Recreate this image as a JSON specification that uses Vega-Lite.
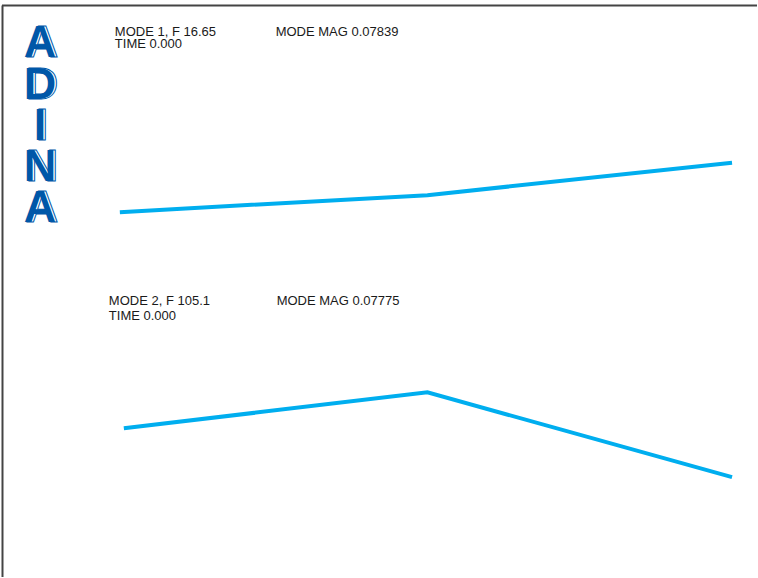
{
  "$schema": "https://vega.github.io/schema/vega-lite/v6.json",
  "width": 758,
  "height": 578,
  "autosize": {"type": "fit", "contains": "padding"},
  "padding": 0,
  "background": "white",
  "config": {"view": {"stroke": null}},
  "datasets": {
    "frame": [
      {"x": 2, "x2": 758, "y": 5.5, "y2": 5.5},
      {"x": 2.5, "x2": 2.5, "y": 5.5, "y2": 578}
    ],
    "modes": [
      {"mode": "MODE 1", "node": 1, "x": 120, "y": 212.5},
      {"mode": "MODE 1", "node": 2, "x": 428, "y": 195.5},
      {"mode": "MODE 1", "node": 3, "x": 733, "y": 163},
      {"mode": "MODE 2", "node": 1, "x": 124, "y": 429},
      {"mode": "MODE 2", "node": 2, "x": 428, "y": 393},
      {"mode": "MODE 2", "node": 3, "x": 733, "y": 478}
    ],
    "labels": [
      {"label": "MODE 1, F 16.65", "x": 115, "y": 36},
      {"label": "TIME 0.000", "x": 115, "y": 48.5},
      {"label": "MODE MAG 0.07839", "x": 276, "y": 36},
      {"label": "MODE 2, F 105.1", "x": 109, "y": 306},
      {"label": "TIME 0.000", "x": 109, "y": 320.5},
      {"label": "MODE MAG 0.07775", "x": 277, "y": 306}
    ],
    "logo": [
      {"letter": "A", "x": 40, "y": 57},
      {"letter": "D", "x": 40, "y": 99},
      {"letter": "I", "x": 40, "y": 140},
      {"letter": "N", "x": 40, "y": 181.5},
      {"letter": "A", "x": 40, "y": 222}
    ]
  },
  "layer": [
    {
      "data": {"name": "frame"},
      "mark": {"type": "rule", "color": "#444444", "strokeWidth": 2},
      "encoding": {
        "x": {"field": "x", "type": "quantitative", "scale": {"domain": [0, 758], "nice": false, "zero": false}, "axis": null},
        "x2": {"field": "x2"},
        "y": {"field": "y", "type": "quantitative", "scale": {"domain": [0, 578], "nice": false, "zero": false, "reverse": true}, "axis": null},
        "y2": {"field": "y2"}
      }
    },
    {
      "data": {"name": "modes"},
      "mark": {"type": "line", "color": "#00AEEF", "strokeWidth": 4, "strokeCap": "butt"},
      "encoding": {
        "x": {"field": "x", "type": "quantitative", "axis": null},
        "y": {"field": "y", "type": "quantitative", "axis": null},
        "detail": {"field": "mode"},
        "order": {"field": "node"}
      }
    },
    {
      "data": {"name": "labels"},
      "mark": {"type": "text", "align": "left", "baseline": "alphabetic", "font": "Liberation Sans", "fontSize": 13, "color": "#1a1a1a"},
      "encoding": {
        "x": {"field": "x", "type": "quantitative", "axis": null},
        "y": {"field": "y", "type": "quantitative", "axis": null},
        "text": {"field": "label"}
      }
    },
    {
      "data": {"name": "logo"},
      "mark": {"type": "text", "align": "center", "baseline": "alphabetic", "font": "Liberation Sans", "fontWeight": "bold", "fontSize": 45, "dx": 2, "fill": "white", "stroke": "#0057A8", "strokeWidth": 1},
      "encoding": {
        "x": {"field": "x", "type": "quantitative", "axis": null},
        "y": {"field": "y", "type": "quantitative", "axis": null},
        "text": {"field": "letter"}
      }
    },
    {
      "data": {"name": "logo"},
      "mark": {"type": "text", "align": "center", "baseline": "alphabetic", "font": "Liberation Sans", "fontWeight": "bold", "fontSize": 45, "fill": "#0057A8"},
      "encoding": {
        "x": {"field": "x", "type": "quantitative", "axis": null},
        "y": {"field": "y", "type": "quantitative", "axis": null},
        "text": {"field": "letter"}
      }
    }
  ]
}
